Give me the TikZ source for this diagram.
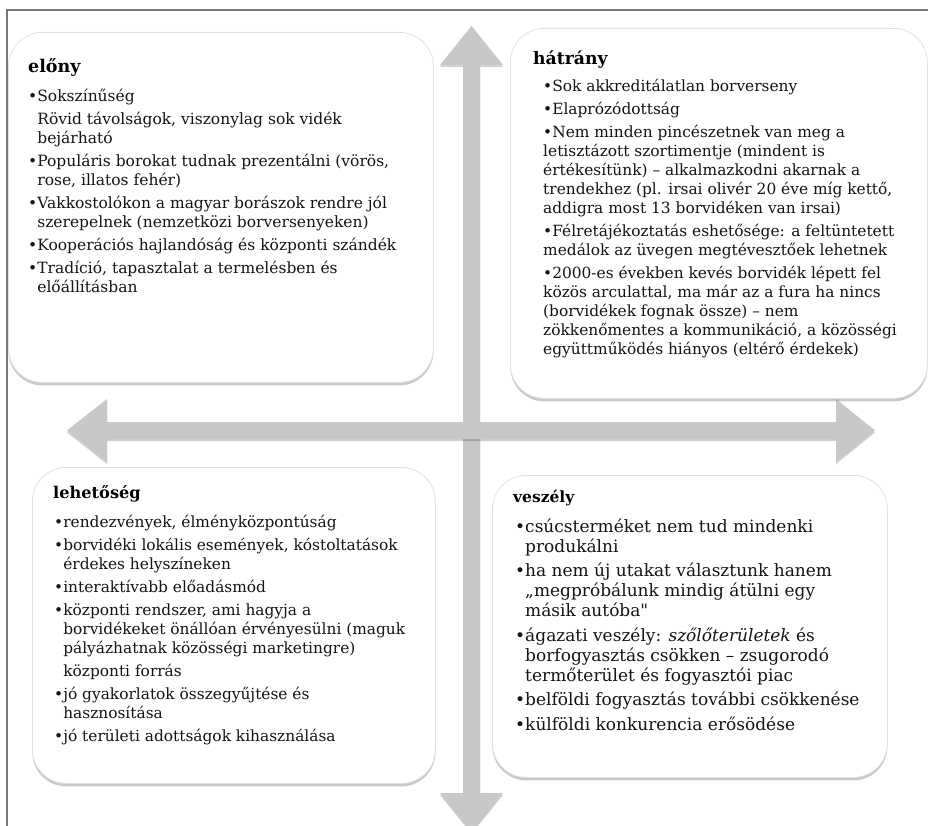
\documentclass[tikz,border=0pt]{standalone}
\usepackage{fontspec}
\setmainfont{DejaVu Serif}
\newfontface\rawq{DejaVu Serif}[Ligatures=ResetAll]
\usetikzlibrary{shadows}
\definecolor{arrowgray}{RGB}{200,200,200}
\definecolor{framegray}{RGB}{120,120,120}
\definecolor{boxedge}{RGB}{225,225,225}
\definecolor{txt}{RGB}{20,20,20}
\newcommand\Lline[1]{\hbox{#1}}
\newcommand\Pgap[1][4pt]{\vskip#1}
\newcommand\Hang{\hphantom{•}}
\newcommand\Blines[3]{\vtop{\fontsize{#1}{#2}\selectfont\hsize=420pt\parindent=0pt\baselineskip=#2\lineskiplimit=-30pt\lineskip=0pt #3}}
\tikzset{
  quad/.style={draw=boxedge, line width=0.8pt, fill=white, rounded corners=34pt,
    drop shadow={shadow xshift=0pt, shadow yshift=-3pt, opacity=0.35, fill=black!60},
    anchor=north west, inner sep=0pt},
  headtxt/.style={anchor=base west, inner sep=0pt, text=black},
  bodytxt/.style={anchor=base west, inner sep=0pt, text=txt},
  arrowshape/.style={fill=arrowgray, draw=none,
    drop shadow={shadow xshift=0pt, shadow yshift=-2pt, opacity=0.18, fill=black}},
}
\begin{document}
\begin{tikzpicture}[x=1pt,y=-1pt]
\useasboundingbox (0,0) rectangle (928,826);
\clip (0,0) rectangle (928,826);
\fill[white] (0,0) rectangle (928,826);
% vertical double arrow
\path[arrowshape] (471.5,26) -- (503,65) -- (480,65) -- (480,793) -- (503,793)
  -- (471.5,832) -- (440,793) -- (463,793) -- (463,65) -- (440,65) -- cycle;
% horizontal double arrow
\path[arrowshape] (67,430.5) -- (107,399) -- (107,422) -- (836,422) -- (836,399)
  -- (875,430.5) -- (836,462) -- (836,439) -- (107,439) -- (107,462) -- cycle;
% boxes
\node[quad, minimum width=425pt, minimum height=350pt] (elony) at (8,32) {};
\node[quad, minimum width=417pt, minimum height=370pt] (hatrany) at (510,28) {};
\node[quad, minimum width=403pt, minimum height=316pt] (lehet) at (32,467) {};
\node[quad, minimum width=395pt, minimum height=302pt] (veszely) at (492,475) {};
% headings
\node[headtxt, font=\fontsize{17.5}{20}\selectfont\bfseries] (elonyh) at (28,73) {előny};
\node[headtxt, font=\fontsize{17.2}{20}\selectfont\bfseries] (hatranyh) at (533,65) {hátrány};
\node[headtxt, font=\fontsize{16.2}{20}\selectfont\bfseries] (lehetH) at (53,498) {lehetőség};
\node[headtxt, font=\fontsize{15.5}{20}\selectfont\bfseries] (veszelyh) at (513,502) {veszély};
% bodies
\node[bodytxt] (elonyb) at (28,102) {\Blines{15.5}{19pt}{%
\Lline{•Sokszínűség}\Pgap
\Lline{\Hang Rövid távolságok, viszonylag sok vidék}
\Lline{\Hang bejárható}\Pgap
\Lline{•Populáris borokat tudnak prezentálni (vörös,}
\Lline{\Hang rose, illatos fehér)}\Pgap
\Lline{•Vakkostolókon a magyar borászok rendre jól}
\Lline{\Hang szerepelnek (nemzetközi borversenyeken)}\Pgap
\Lline{•Kooperációs hajlandóság és központi szándék}\Pgap
\Lline{•Tradíció, tapasztalat a termelésben és}
\Lline{\Hang előállításban}}};
\node[bodytxt] (hatranyb) at (543,92) {\Blines{15.4}{19pt}{%
\Lline{•Sok akkreditálatlan borverseny}\Pgap
\Lline{•Elaprózódottság}\Pgap
\Lline{•Nem minden pincészetnek van meg a}
\Lline{letisztázott szortimentje (mindent is}
\Lline{értékesítünk) – alkalmazkodni akarnak a}
\Lline{trendekhez (pl. irsai olivér 20 éve míg kettő,}
\Lline{addigra most 13 borvidéken van irsai)}\Pgap
\Lline{•Félretájékoztatás eshetősége: a feltüntetett}
\Lline{medálok az üvegen megtévesztőek lehetnek}\Pgap
\Lline{•2000-es években kevés borvidék lépett fel}
\Lline{közös arculattal, ma már az a fura ha nincs}
\Lline{(borvidékek fognak össze) – nem}
\Lline{zökkenőmentes a kommunikáció, a közösségi}
\Lline{együttműködés hiányos (eltérő érdekek)}}};
\node[bodytxt] (lehetb) at (54,527) {\Blines{15.4}{19pt}{%
\Lline{•rendezvények, élményközpontúság}\Pgap
\Lline{•borvidéki lokális események, kóstoltatások}
\Lline{\Hang érdekes helyszíneken}\Pgap
\Lline{•interaktívabb előadásmód}\Pgap
\Lline{•központi rendszer, ami hagyja a}
\Lline{\Hang borvidékeket önállóan érvényesülni (maguk}
\Lline{\Hang pályázhatnak közösségi marketingre)}\Pgap
\Lline{\Hang központi forrás}\Pgap
\Lline{•jó gyakorlatok összegyűjtése és}
\Lline{\Hang hasznosítása}\Pgap
\Lline{•jó területi adottságok kihasználása}}};
\node[bodytxt] (veszelyb) at (515,532) {\Blines{17}{20pt}{%
\Lline{•csúcsterméket nem tud mindenki}
\Lline{\Hang produkálni}\Pgap[4.5pt]
\Lline{•ha nem új utakat választunk hanem}
\Lline{\Hang „megpróbálunk mindig átülni egy}
\Lline{\Hang másik autóba{\rawq"}}\Pgap[4.5pt]
\Lline{•ágazati veszély: \textit{szőlőterületek} és}
\Lline{\Hang borfogyasztás csökken – zsugorodó}
\Lline{\Hang termőterület és fogyasztói piac}\Pgap[4.5pt]
\Lline{•belföldi fogyasztás további csökkenése}\Pgap[4.5pt]
\Lline{•külföldi konkurencia erősödése}}};
% frame
\draw[framegray, line width=1.4pt] (928,10) -- (7,10) -- (7,826);
\end{tikzpicture}
\end{document}
